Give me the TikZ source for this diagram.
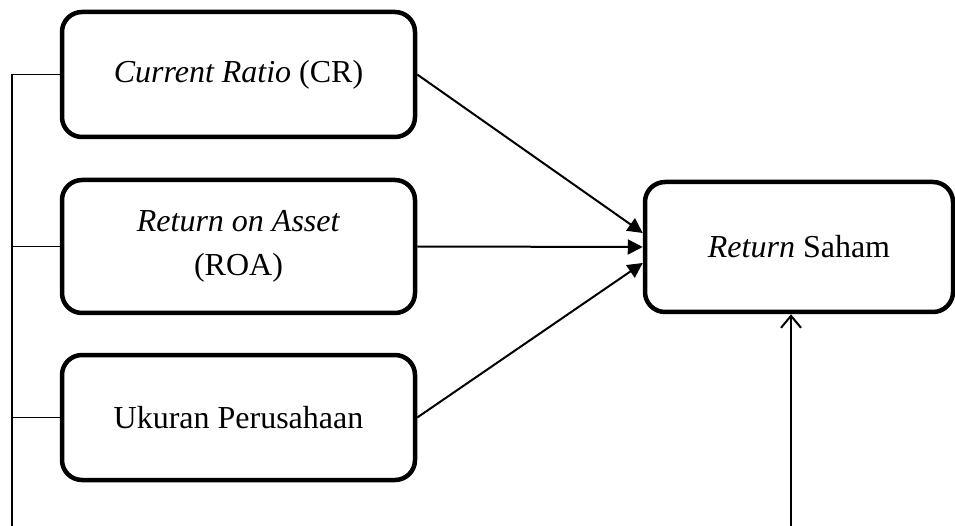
\documentclass[tikz,border=0pt]{standalone}
\usepackage{fontspec}
\setmainfont{Liberation Serif}
\usetikzlibrary{arrows.meta}
\begin{document}
\begin{tikzpicture}[x=1pt,y=-1pt,
  box/.style={draw=black,line width=4.5pt,rounded corners=20pt,align=center,
    font=\fontsize{32}{44}\selectfont,inner sep=0pt},
  conn/.style={line width=2pt},
  brk/.style={line width=1.4pt},
  filled/.style={conn,-{Triangle[length=15pt,width=15pt]}},
  open/.style={conn,-{Straight Barb[length=12pt,width=20pt,line width=2pt]}}]
\useasboundingbox (0,0) rectangle (955,526);
\node[box,minimum width=353pt,minimum height=125pt] (b1) at (238.5,74.5) {\textit{Current Ratio} (CR)};
\node[box,minimum width=353pt,minimum height=133pt] (b2) at (238.5,246.5) {\textit{Return on Asset}\\(ROA)};
\node[box,minimum width=353pt,minimum height=125pt] (b3) at (238.5,417.5) {Ukuran Perusahaan};
\node[box,minimum width=308pt,minimum height=130pt] (r) at (799,247) {\textit{Return} Saham};
\coordinate (lt) at (12,528);
\coordinate (bot) at (791,528);
\draw[filled] (b1.east) -- ([yshift=14pt]r.west);
\draw[filled] (b2.east) -- (r.west);
\draw[filled] (b3.east) -- ([yshift=-16pt]r.west);
\draw[open] (bot) -- (bot |- r.south);
\draw[brk] (b1.west) -| (lt);
\draw[brk] (b2.west) -- (b2.west -| lt);
\draw[brk] (b3.west) -- (b3.west -| lt);
\end{tikzpicture}
\end{document}
